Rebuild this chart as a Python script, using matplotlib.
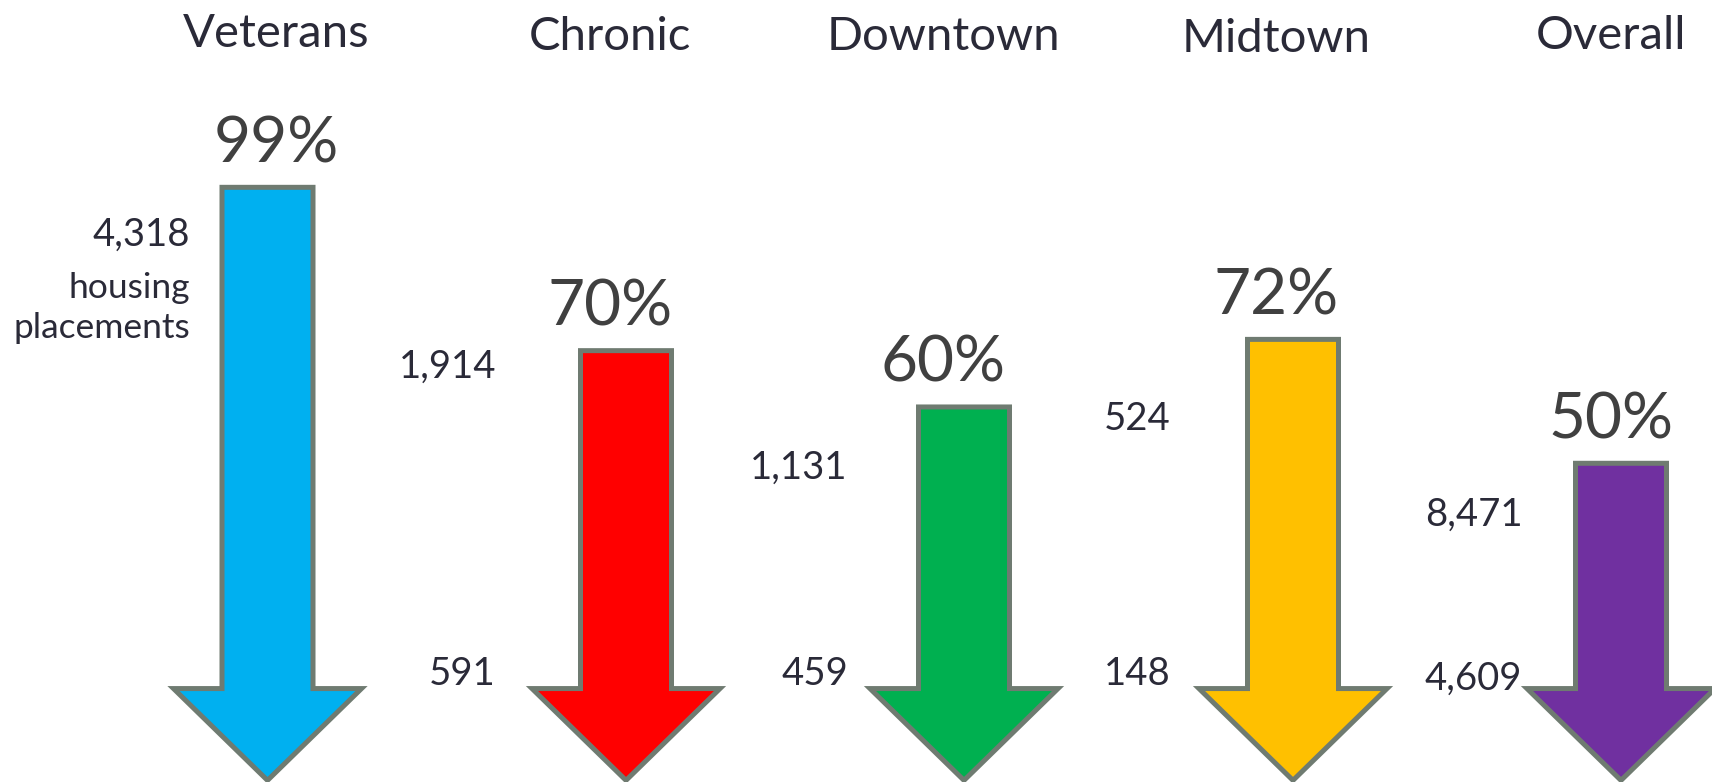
import matplotlib
matplotlib.use('Agg')
import matplotlib.pyplot as plt
from matplotlib.patches import Polygon

# data
groups = ['Veterans', 'Chronic', 'Downtown', 'Midtown', 'Overall']
pct_drop = [99, 70, 60, 72, 50]
before_vals = ['4,318', '1,914', '1,131', '524', '8,471']
after_vals = ['', '591', '459', '148', '4,609']
unit_note = ['housing', 'placements']
colors = ['#00B0F0', '#FF0000', '#00B050', '#FFC000', '#7030A0']

# layout (pixels of the 1712x782 canvas)
W, H = 1712, 782
arrow_x = [267.5, 626, 964, 1293, 1621]
text_x = [276, 610, 943, 1276, 1611]
title_base = [47, 50, 50, 52, 49]
before_right = [190, 496, 847, 1171, 1523]
before_base = [246, 378, 479, 430, 526]
after_right = [None, 496, 848, 1171, 1522]
after_base = [None, 685, 685, 685, 690]
note_base = [298, 338]

shaft_hw = 45.5
head_hw = 94
head_level = 10
tip_level = -6.3

plt.rcParams['font.family'] = ['Lato', 'DejaVu Sans']
txt_dark = '#2A2A38'
pct_col = '#404040'
edge_col = '#6F7B71'

fig = plt.figure(figsize=(W / 100, H / 100), dpi=100)
ax = fig.add_axes([0, 0, 1, 1])
ax.set_xlim(0, W)
ax.set_ylim(-6.59, 132.26)
ax.axis('off')


def fxy(x, y):
    return x / W, 1 - y / H


for i, g in enumerate(groups):
    x = arrow_x[i]
    top = pct_drop[i]
    pts = [(x - shaft_hw, top), (x + shaft_hw, top), (x + shaft_hw, head_level),
           (x + head_hw, head_level), (x, tip_level), (x - head_hw, head_level),
           (x - shaft_hw, head_level)]
    ax.add_patch(Polygon(pts, closed=True, facecolor=colors[i], edgecolor=edge_col,
                         linewidth=3.6, joinstyle='miter', clip_on=False))

    ax.annotate(f'{pct_drop[i]}%', xy=(text_x[i], top), xytext=(0, 25),
                textcoords='offset pixels', ha='center', va='baseline',
                fontsize=46, color=pct_col)

    fig.text(*fxy(text_x[i], title_base[i]), g, ha='center', va='baseline',
             fontsize=34, color=txt_dark)

    fig.text(*fxy(before_right[i], before_base[i]), before_vals[i], ha='right',
             va='baseline', fontsize=27.5, color=txt_dark)
    if after_vals[i]:
        fig.text(*fxy(after_right[i], after_base[i]), after_vals[i], ha='right',
                 va='baseline', fontsize=27.5, color=txt_dark)

for line, yb in zip(unit_note, note_base):
    fig.text(*fxy(before_right[0], yb), line, ha='right', va='baseline',
             fontsize=25.5, color=txt_dark)

fig.savefig('out.png', dpi=100, facecolor='white')
